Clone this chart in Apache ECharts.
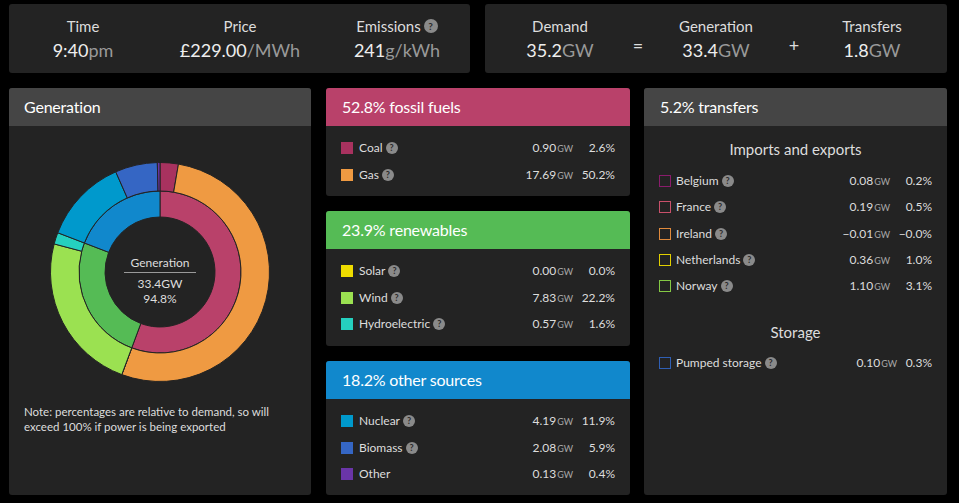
<!DOCTYPE html>
<html><head><meta charset="utf-8">
<script src="https://cdn.jsdelivr.net/npm/echarts@6/dist/echarts.min.js"></script>
<style>
body{margin:0;background:#000;width:959px;height:503px;overflow:hidden;font-family:Lato,'Noto Sans',sans-serif;color:#ddd;position:relative}
.box{position:absolute;background:#232323;border-radius:3px;overflow:hidden}
.hdr{position:absolute;left:0;right:0;top:0;height:38px;background:#454545;color:#fff;font-size:16px;line-height:38px;padding-left:15px;letter-spacing:-0.2px}
.stat{position:absolute;text-align:center;width:140px;margin-left:-70px}
.stat .l{position:absolute;left:0;right:0;top:12px;font-size:15px;line-height:20px;color:#ddd}
.stat .v{position:absolute;left:0;right:0;top:35px;font-size:18px;line-height:22px;color:#eee}
.u{color:#999}
.op{position:absolute;top:30px;font-size:18px;color:#ddd;width:20px;margin-left:-10px;text-align:center}
.q{display:inline-block;width:12px;height:12px;border-radius:6px;background:#8a8a8a;color:#2a2a2a;font-size:9px;line-height:12px;text-align:center;font-weight:bold;vertical-align:1px;margin-left:3px}
.row{position:absolute;left:0;right:0;height:20px;line-height:20px;font-size:12px;color:#ddd}
.sq{position:absolute;left:15px;top:4px;width:12px;height:12px;box-sizing:border-box}
.lab{position:absolute;left:33px}
.gw{position:absolute;text-align:right}
.gw small{font-size:9px;color:#aaa;margin-left:1px}
.pc{position:absolute;right:15px;text-align:right}
.sub{position:absolute;left:0;right:0;text-align:center;font-size:15px;color:#ddd;line-height:20px}
#chart{position:absolute;left:0;top:0;width:959px;height:503px}
</style></head>
<body>
<div id="page"></div>
<div id="chart"></div>
<script>
// ---- data ----
const topLabels = ['Time','Price','Emissions'];
const topValues = ['9:40','£229.00','241'];
const topUnits = ['pm','/MWh','g/kWh'];
const balanceLabels = ['Demand','Generation','Transfers'];
const balanceGW = [35.2, 33.4, 1.8];
const generationPct = 94.8;

const sources = ['Coal','Gas','Solar','Wind','Hydroelectric','Nuclear','Biomass','Other'];
const sourceGW = [0.90, 17.69, 0.00, 7.83, 0.57, 4.19, 2.08, 0.13];
const sourcePct = [2.6, 50.2, 0.0, 22.2, 1.6, 11.9, 5.9, 0.4];
const sourceGroup = [0, 0, 1, 1, 1, 2, 2, 2];
const sourceHelp = [true, true, true, true, true, true, true, false];
const sourceColors = ['#a8325f','#ef9a42','#eedc00','#9be151','#25d0bf','#0099cc','#3566c4','#6a35a8'];

const groups = ['fossil fuels','renewables','other sources'];
const groupPct = [52.8, 23.9, 18.2];
const groupColors = ['#b9416a','#55bb55','#1188cc'];

const transferNames = ['Belgium','France','Ireland','Netherlands','Norway'];
const transferGW = [0.08, 0.19, -0.01, 0.36, 1.10];
const transferPct = [0.2, 0.5, -0.0, 1.0, 3.1];
const transferColors = ['#8a1c6c','#c8506a','#e08a3c','#e2d000','#84c844'];
const storageNames = ['Pumped storage'];
const storageGW = [0.10];
const storagePct = [0.3];
const storageColors = ['#2f5fb4'];
const transfersPct = 5.2;

// ---- helpers ----
const page = document.getElementById('page');
function el(tag, cls, html, style, parent){
  const e = document.createElement(tag);
  if (cls) e.className = cls;
  if (html !== undefined) e.innerHTML = html;
  if (style) e.setAttribute('style', style);
  (parent || page).appendChild(e);
  return e;
}
function num(v, d){
  const neg = v < 0 || (v === 0 && 1 / v < 0);
  return (neg ? '\u2212' : '') + Math.abs(v).toFixed(d);
}
const Q = '<span class="q">?</span>';

// top boxes
const b1 = el('div','box','', 'left:9px;top:4px;width:461px;height:69px');
const b1x = [74, 231, 388];
topLabels.forEach((l,i)=>{
  const s = el('div','stat','', 'left:'+b1x[i]+'px;top:0;height:69px', b1);
  el('div','l', l + (i===2 ? '<span class="q" style="width:14px;height:14px;border-radius:7px;line-height:14px;font-size:10px;vertical-align:2px">?</span>' : ''), '', s);
  el('div','v', topValues[i] + '<span class="u">' + topUnits[i] + '</span>', '', s);
});
const b2 = el('div','box','', 'left:485px;top:4px;width:462px;height:69px');
const b2x = [75, 231, 387];
balanceLabels.forEach((l,i)=>{
  const s = el('div','stat','', 'left:'+b2x[i]+'px;top:0;height:69px', b2);
  el('div','l', l, '', s);
  el('div','v', balanceGW[i].toFixed(1) + '<span class="u">GW</span>', '', s);
});
el('div','op','=', 'left:153px', b2);
el('div','op','+', 'left:309px', b2);

// generation panel
const gp = el('div','box','', 'left:9px;top:88px;width:302px;height:407px');
el('div','hdr','Generation','',gp);
el('div','', 'Note: percentages are relative to demand, so will<br>exceed 100% if power is being exported',
  'position:absolute;left:15px;top:316px;font-size:11.5px;line-height:15px;color:#ddd', gp);

// group panels
const gpos = [[88,108],[211,135],[361,134]];
groups.forEach((g,gi)=>{
  const p = el('div','box','', 'left:326px;top:'+gpos[gi][0]+'px;width:304px;height:'+gpos[gi][1]+'px');
  el('div','hdr', groupPct[gi].toFixed(1) + '% ' + g, 'background:'+groupColors[gi]+';padding-left:16px', p);
  let k = 0;
  sources.forEach((s,i)=>{
    if (sourceGroup[i] !== gi) return;
    const r = el('div','row','', 'top:'+(50 + k*26.5)+'px', p);
    el('div','sq','', 'background:'+sourceColors[i], r);
    el('div','lab', s + (sourceHelp[i] ? Q : ''), '', r);
    el('div','gw', num(sourceGW[i],2) + '<small>GW</small>', 'right:57px', r);
    el('div','pc', num(sourcePct[i],1) + '%', '', r);
    k++;
  });
});

// transfers panel
const tp = el('div','box','', 'left:644px;top:88px;width:303px;height:407px');
el('div','hdr', transfersPct.toFixed(1) + '% transfers', 'padding-left:16px', tp);
el('div','sub','Imports and exports','top:51px',tp);
function trow(name, gw, pc, col, top, gwRight){
  const r = el('div','row','', 'top:'+top+'px', tp);
  el('div','sq','', 'border:1.6px solid '+col, r);
  el('div','lab', name + Q, 'left:32px', r);
  el('div','gw', num(gw,2) + '<small>GW</small>', 'right:'+gwRight+'px', r);
  el('div','pc', num(pc,1) + '%', 'right:15px', r);
}
transferNames.forEach((n,i)=>trow(n, transferGW[i], transferPct[i], transferColors[i], 83 + i*26.3, 57));
el('div','sub','Storage','top:234px',tp);
storageNames.forEach((n,i)=>trow(n, storageGW[i], storagePct[i], storageColors[i], 265 + i*26.3, 50));

// ---- donut ----
const groupGW = groups.map((g,gi)=>sources.reduce((a,s,i)=>a + (sourceGroup[i]===gi ? sourceGW[i] : 0), 0));
const chart = echarts.init(document.getElementById('chart'), null, {renderer:'svg'});
const cx = 160, cy = 272;
chart.setOption({
  backgroundColor: 'transparent',
  animation: false,
  series: [
    {
      type:'pie', center:[cx,cy], radius:[55,81], startAngle:90, clockwise:true,
      label:{show:false}, labelLine:{show:false}, emphasis:{disabled:true}, silent:true,
      itemStyle:{borderColor:'#232323', borderWidth:1},
      data: groups.map((g,i)=>({name:g, value:groupGW[i], itemStyle:{color:groupColors[i]}}))
    },
    {
      type:'pie', center:[cx,cy], radius:[81,109.5], startAngle:90, clockwise:true,
      label:{show:false}, labelLine:{show:false}, emphasis:{disabled:true}, silent:true,
      stillShowZeroSum:true,
      itemStyle:{borderColor:'#232323', borderWidth:1},
      data: sources.map((s,i)=>({name:s, value:sourceGW[i], itemStyle:{color:sourceColors[i]}}))
    }
  ],
  graphic: [
    {type:'text', x:cx, y:cy-10, style:{text:'Generation', align:'center', verticalAlign:'middle', fill:'#ddd', font:'12px Lato'}, z:10},
    {type:'line', shape:{x1:cx-36, y1:cy+0.5, x2:cx+36, y2:cy+0.5}, style:{stroke:'#9a9a9a', lineWidth:1}, z:10},
    {type:'text', x:cx, y:cy+11, style:{text: balanceGW[1].toFixed(1)+'GW', align:'center', verticalAlign:'middle', fill:'#ddd', font:'12px Lato'}, z:10},
    {type:'text', x:cx, y:cy+26, style:{text: generationPct.toFixed(1)+'%', align:'center', verticalAlign:'middle', fill:'#ddd', font:'12px Lato'}, z:10}
  ]
});
</script>
</body></html>
